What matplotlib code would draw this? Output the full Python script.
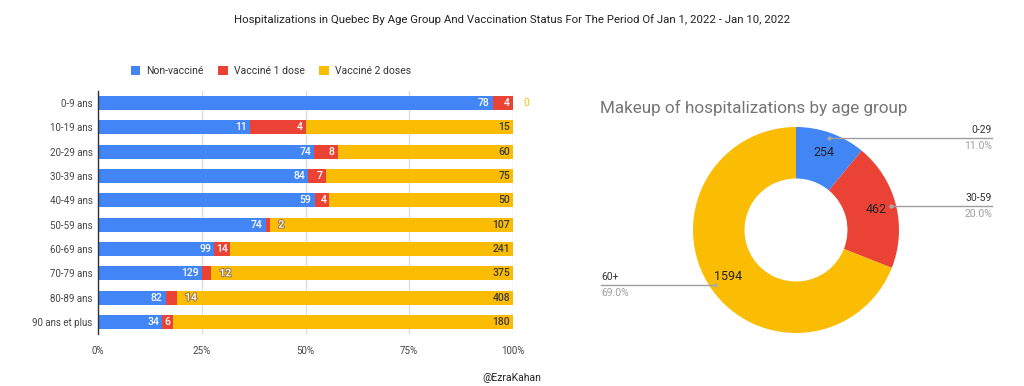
import numpy as np
import matplotlib
matplotlib.use("Agg")
import matplotlib.pyplot as plt
import matplotlib.patheffects as pe

plt.rcParams['font.family'] = ['Roboto', 'DejaVu Sans']

# ---- data ----
age_groups = ["0-9 ans", "10-19 ans", "20-29 ans", "30-39 ans", "40-49 ans",
              "50-59 ans", "60-69 ans", "70-79 ans", "80-89 ans", "90 ans et plus"]
non_vaccine = [78, 11, 74, 84, 59, 74, 99, 129, 82, 34]
vaccine_1 = [4, 4, 8, 7, 4, 2, 14, 12, 14, 6]
vaccine_2 = [0, 15, 60, 75, 50, 107, 241, 375, 408, 180]
series_names = ["Non-vacciné", "Vacciné 1 dose", "Vacciné 2 doses"]
x_ticks = [0, 25, 50, 75, 100]
x_tick_labels = ["0%", "25%", "50%", "75%", "100%"]

pie_labels = ["0-29", "30-59", "60+"]
pie_values = [254, 462, 1594]

title = ("Hospitalizations in Quebec By Age Group And Vaccination Status "
         "For The Period Of Jan 1, 2022 - Jan 10, 2022")
pie_title = "Makeup of hospitalizations by age group"
footer = "@EzraKahan"

colors = ["#4285F4", "#EA4335", "#FBBC04"]
label_colors = ["white", "white", "#3a3a3a"]

W, H = 1024, 386
fig = plt.figure(figsize=(W / 100, H / 100), dpi=100)
fig.patch.set_facecolor("white")

fig.text(0.5, 1 - 20 / H, title, ha="center", va="center", fontsize=8.2, color="#222222")
fig.text(0.5, 1 - 378 / H, footer, ha="center", va="center", fontsize=7.5, color="#222222")

# ---- stacked 100% bar chart ----
ax = fig.add_axes([98 / W, 1 - 334 / H, 415 / W, 243 / H])
n = len(age_groups)
y = np.arange(n)
data = np.array([non_vaccine, vaccine_1, vaccine_2], dtype=float)
totals = data.sum(axis=0)
pct = data / totals * 100
left = np.zeros(n)
bar_h = 0.58
px_per_pct = 415 / 100.0
for s in range(3):
    ax.barh(y, pct[s], left=left, height=bar_h, color=colors[s],
            label=series_names[s], zorder=3)
    for i in range(n):
        val = int(data[s, i])
        end = left[i] + pct[s, i]
        txt = str(val)
        tw = len(txt) * 5.6 + 4  # approx text width in px
        seg_px = pct[s, i] * px_per_pct
        if val == 0:
            ax.text(end + 10 / px_per_pct, y[i], txt, ha="left", va="center",
                    fontsize=7.5, color=colors[s], zorder=5)
        elif seg_px >= tw:
            ax.text(end - 3 / px_per_pct, y[i], txt, ha="right", va="center",
                    fontsize=7.5, color=label_colors[s], zorder=5,
                    fontweight="medium")
        else:
            ax.text(end + 8 / px_per_pct, y[i], txt, ha="left", va="center",
                    fontsize=7.5, color="white", zorder=5, fontweight="medium",
                    path_effects=[pe.withStroke(linewidth=1.5, foreground="#a07848")])
    left = left + pct[s]

ax.set_xlim(0, 100)
ax.set_ylim(n - 0.5, -0.5)
ax.set_yticks(y)
ax.set_yticklabels(age_groups, fontsize=7, color="#444444")
ax.set_xticks(x_ticks)
ax.set_xticklabels(x_tick_labels, fontsize=7, color="#444444")
ax.tick_params(axis="both", length=0, pad=4)
ax.tick_params(axis="x", pad=9)
ax.grid(axis="x", color="#dddddd", linewidth=1, zorder=0)
for sp in ["top", "right", "bottom"]:
    ax.spines[sp].set_visible(False)
ax.spines["left"].set_color("#333333")
ax.spines["left"].set_linewidth(1)
ax.spines["left"].set_zorder(4)

handles, labels = ax.get_legend_handles_labels()
fig.legend(handles, labels, loc="center", bbox_to_anchor=(271 / W, 1 - 71 / H),
           ncol=3, frameon=False, fontsize=7.5, handlelength=0.9, handleheight=0.9,
           handletextpad=0.6, columnspacing=1.4, labelcolor="#333333")

# ---- donut chart ----
cx, cy, r_px = 796, 230, 103
ax2 = fig.add_axes([590 / W, 1 - 365 / H, 430 / W, 270 / H])
wedges, _ = ax2.pie(pie_values, colors=colors, startangle=90, counterclock=False,
                    wedgeprops=dict(width=0.5, linewidth=0))
ax2.set_xlim(-(cx - 590) / r_px, (1020 - cx) / r_px)
ax2.set_ylim(-(365 - cy) / r_px, (cy - 95) / r_px)
ax2.set_aspect("equal")

total = sum(pie_values)
cum = 0.0
x_right = (992 - cx) / r_px
x_left = (601 - cx) / r_px
for k, v in enumerate(pie_values):
    frac_mid = (cum + v / 2) / total
    cum += v
    ang = np.deg2rad(90 - frac_mid * 360)
    ax2.text(0.8 * np.cos(ang), 0.8 * np.sin(ang), str(v), ha="center", va="center",
             fontsize=9, color="#222222")
    dx, dy = 0.95 * np.cos(ang), 0.95 * np.sin(ang)
    ax2.plot([dx], [dy], marker="o", markersize=2, color="#aaaaaa", zorder=5)
    if dx >= 0:
        xe, ha = x_right, "right"
    else:
        xe, ha = x_left, "left"
    ax2.plot([dx, xe], [dy, dy], color="#9e9e9e", linewidth=1, clip_on=False)
    ax2.text(xe, dy + 0.03, pie_labels[k], ha=ha, va="bottom", fontsize=7.5,
             color="#333333", clip_on=False)
    ax2.text(xe, dy - 0.03, f"{v / total * 100:.1f}%", ha=ha, va="top", fontsize=7.5,
             color="#9e9e9e", clip_on=False)

ax2.text((600 - cx) / r_px, (cy - 108) / r_px, pie_title, ha="left", va="center",
         fontsize=12.3, color="#757575")

fig.savefig("out.png", dpi=100)
